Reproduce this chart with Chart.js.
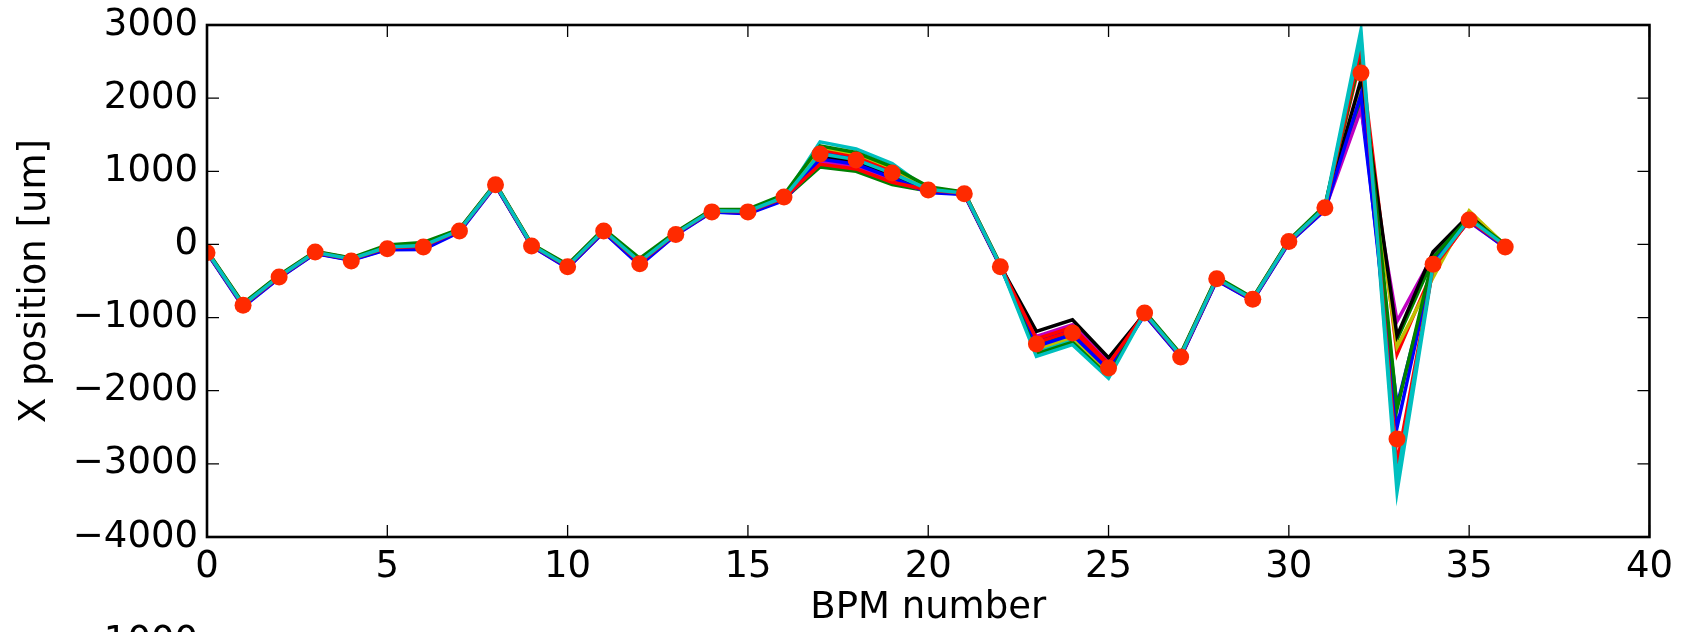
<!DOCTYPE html>
<html>
<head>
<meta charset="utf-8">
<script src="https://cdn.jsdelivr.net/npm/chart.js@4.4.1/dist/chart.umd.min.js"></script>
<style>
html, body { margin: 0; padding: 0; background: #fff; overflow: hidden; }
</style>
</head>
<body>
<canvas id="orbit" width="1681" height="632"></canvas>
<script>
// BPM index along the ring
const bpm = [0,1,2,3,4,5,6,7,8,9,10,11,12,13,14,15,16,17,18,19,20,21,22,23,24,25,26,27,28,29,30,31,32,33,34,35,36];
const xTickValues = [0,5,10,15,20,25,30,35,40];
const yTickValues = [-4000,-3000,-2000,-1000,0,1000,2000,3000];

// individual orbit readings (um)
const run01 = [-96,-824,-435,-106,-196,-32,-8,195,824,-6,-294,196,-228,155,464,458,650,1258,1176,985,760,704,-286,-1309,-1149,-1648,-934,-1514,-464,-745,45,508,1900,-2200,-280,330,-14];
const run02 = [-108,-842,-450,-118,-208,-56,-44,180,812,-18,-312,178,-264,140,452,434,620,1060,1000,820,730,692,-298,-1360,-1200,-1690,-952,-1532,-482,-760,30,484,2000,-1300,-200,380,-32];
const run03 = [-90,-815,-428,-100,-190,-20,10,202,830,0,-285,205,-210,162,470,470,665,1294,1208,1015,775,710,-280,-1343,-1183,-1676,-925,-1505,-455,-738,52,520,2550,-1500,-350,350,-5];
const run04 = [-100,-830,-440,-110,-200,-40,-20,190,820,-10,-300,190,-240,150,460,450,640,1402,1304,1105,750,700,-290,-1462,-1302,-1774,-940,-1520,-470,-750,40,500,2930,-3380,-300,340,-20];
const run05 = [-112,-848,-455,-122,-212,-64,-56,175,808,-22,-318,172,-276,135,448,426,610,1132,1064,880,720,688,-302,-1258,-1098,-1606,-958,-1538,-488,-765,25,476,1850,-1050,-150,310,-38];
const run06 = [-94,-821,-432,-104,-194,-28,-2,198,826,-4,-291,199,-222,158,466,462,655,1330,1240,1045,765,706,-284,-1428,-1268,-1746,-931,-1511,-461,-742,48,512,2100,-1400,-450,460,-11];
const run07 = [-104,-836,-445,-114,-204,-48,-32,185,816,-14,-306,184,-252,145,456,442,630,1204,1128,940,740,696,-294,-1190,-1030,-1550,-946,-1526,-476,-755,35,492,2250,-1250,-100,400,-26];
const run08 = [-116,-854,-460,-126,-216,-72,-68,170,804,-26,-324,166,-288,130,444,418,600,1168,1096,910,710,684,-306,-1394,-1234,-1718,-964,-1544,-494,-770,20,468,2050,-2500,-250,320,-44];
const run09 = [-84,-806,-420,-94,-184,-8,28,210,836,6,-276,214,-192,170,476,482,680,1348,1256,1060,790,716,-274,-1496,-1336,-1802,-916,-1496,-446,-730,60,532,2600,-2250,-180,370,4];
const run10 = [-102,-833,-442,-112,-202,-44,-26,188,818,-12,-303,187,-246,148,458,446,635,1096,1032,850,745,698,-292,-1292,-1132,-1634,-943,-1523,-473,-752,38,496,2700,-3000,-320,330,-23];
const run11 = [-98,-827,-438,-108,-198,-36,-14,192,822,-8,-297,193,-234,152,462,454,645,1240,1160,970,755,702,-288,-1530,-1370,-1830,-937,-1517,-467,-748,42,504,2820,-3200,-290,350,-17];

// the highlighted reading (red dots)
const measured = [-115,-830,-445,-105,-225,-60,-35,185,815,-20,-305,185,-265,135,445,445,650,1236,1155,978,745,692,-305,-1360,-1210,-1690,-938,-1538,-470,-750,40,500,2345,-2660,-270,335,-35];

const runs = [run01, run02, run03, run04, run05, run06, run07, run08, run09, run10, run11];
// matplotlib classic cycle b g r c m y k
const runColors = ['#0000ff','#008000','#ff0000','#00bfbf','#bf00bf','#bfbf00','#000000','#0000ff','#008000','#ff0000','#00bfbf'];

const font = { family: '"DejaVu Sans"', size: 37 };

function points(values) {
    return values.map((v, i) => ({ x: bpm[i], y: v }));
}

const datasets = runs.map((r, k) => ({
    data: points(r),
    borderColor: runColors[k],
    borderWidth: 3.5,
    pointRadius: 0,
    fill: false,
    tension: 0,
    clip: 0,
    order: runs.length - k   // later runs on top, like matplotlib
}));
datasets.push({
    data: points(measured),
    showLine: false,
    pointRadius: 8.5,
    pointHoverRadius: 8.5,
    pointBackgroundColor: '#ff2a00',
    pointBorderWidth: 0,
    clip: 0,
    order: -1
});

// frame plus inward ticks on all four sides
const frameTicks = {
    id: 'frameTicks',
    afterDraw(chart) {
        const { ctx, chartArea: a, scales: { x, y } } = chart;
        ctx.save();
        ctx.strokeStyle = '#000';
        ctx.lineWidth = 1.3;
        ctx.beginPath();
        xTickValues.forEach(v => {
            const px = x.getPixelForValue(v);
            ctx.moveTo(px, a.bottom); ctx.lineTo(px, a.bottom - 12);
            ctx.moveTo(px, a.top); ctx.lineTo(px, a.top + 12);
        });
        yTickValues.forEach(v => {
            const py = y.getPixelForValue(v);
            ctx.moveTo(a.left, py); ctx.lineTo(a.left + 12, py);
            ctx.moveTo(a.right, py); ctx.lineTo(a.right - 12, py);
        });
        ctx.stroke();
        ctx.lineWidth = 2.6;
        ctx.strokeRect(a.left, a.top, a.right - a.left, a.bottom - a.top);
        // first tick label of the next panel, cut by the page edge
        ctx.fillStyle = '#000';
        ctx.font = '37px "DejaVu Sans"';
        ctx.textAlign = 'right';
        ctx.textBaseline = 'alphabetic';
        ctx.fillText('1000', a.left - 9, 652);
        ctx.restore();
    }
};

new Chart(document.getElementById('orbit'), {
    type: 'line',
    data: { datasets: datasets },
    options: {
        responsive: false,
        animation: false,
        events: [],
        layout: { padding: { top: 25, right: 31, left: 0, bottom: 0 } },
        plugins: { legend: { display: false }, tooltip: { enabled: false } },
        scales: {
            x: {
                type: 'linear',
                min: 0,
                max: 40,
                afterBuildTicks: s => { s.ticks = xTickValues.map(v => ({ value: v })); },
                afterFit: s => { s.height = 95; },
                ticks: { color: '#000', font: font, padding: 8, maxRotation: 0 },
                grid: { display: false, drawTicks: false },
                border: { display: false },
                title: { display: true, text: 'BPM number', color: '#000', font: font, padding: { top: 0, bottom: 1 } }
            },
            y: {
                min: -4000,
                max: 3000,
                afterBuildTicks: s => { s.ticks = yTickValues.map(v => ({ value: v })); },
                afterFit: s => { s.width = 207; s.paddingTop = 0; s.paddingBottom = 0; },
                ticks: {
                    color: '#000',
                    font: font,
                    padding: 9,
                    callback: v => v < 0 ? '\u2212' + Math.abs(v) : String(v)
                },
                grid: { display: false, drawTicks: false },
                border: { display: false },
                title: { display: true, text: 'X position [um]', color: '#000', font: font, padding: { top: 13, bottom: 0 } }
            }
        }
    },
    plugins: [frameTicks]
});
</script>
</body>
</html>
